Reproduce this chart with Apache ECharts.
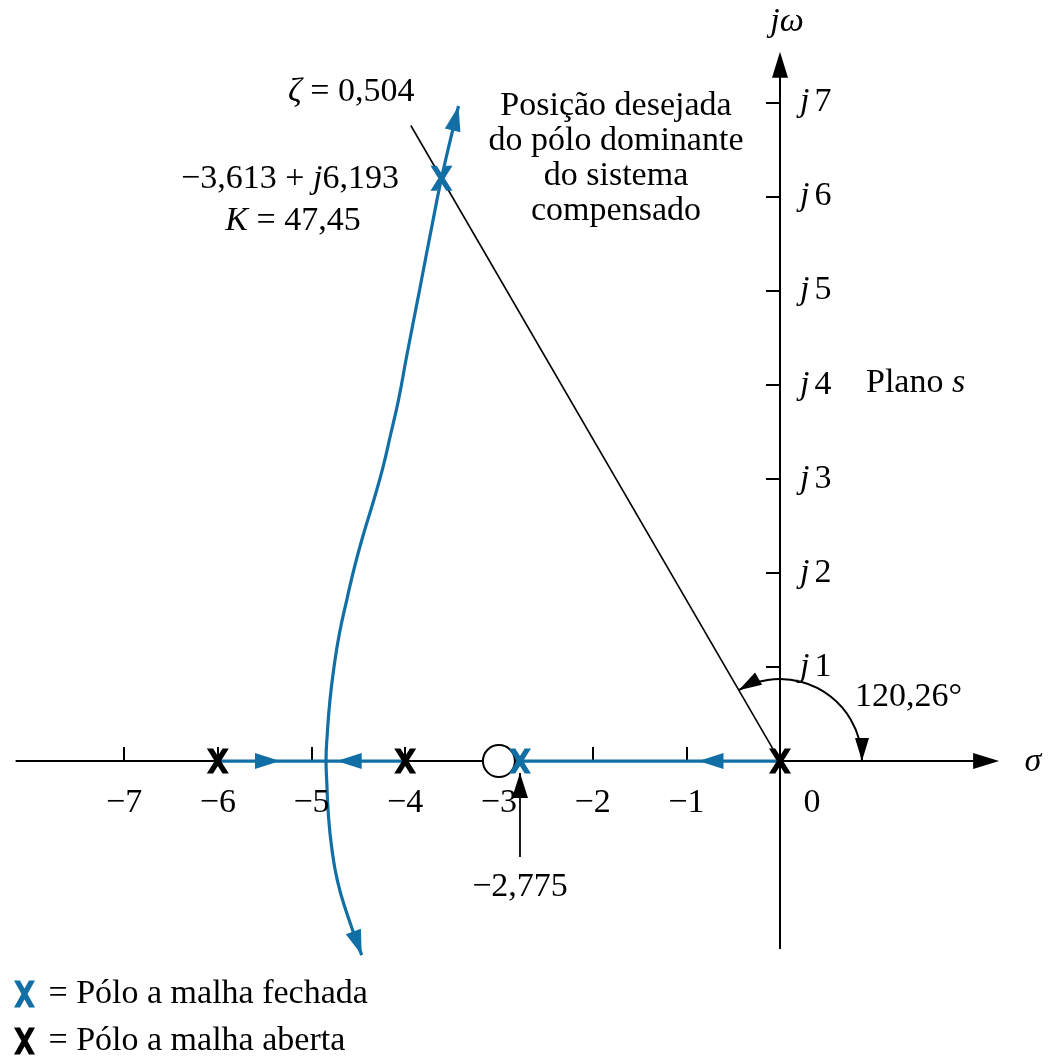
<!DOCTYPE html>
<html>
<head>
<meta charset="utf-8">
<script src="https://cdn.jsdelivr.net/npm/echarts@6/dist/echarts.min.js"></script>
<style>
  html, body { margin: 0; padding: 0; background: #fff; }
  #chart { width: 1057px; height: 1056px; }
</style>
</head>
<body>
<div id="chart"></div>
<script>
// ---- s-plane tick values ----
const sigmaTicks = [-7, -6, -5, -4, -3, -2, -1];
const omegaTicks = [1, 2, 3, 4, 5, 6, 7];

// ---- poles and zero ----
const openLoopPoles = [[-6, 0], [-4, 0], [0, 0]];
const openLoopZeros = [[-3, 0]];
const closedLoopPoles = [[-3.613, 6.193], [-2.775, 0]];

// ---- root-locus branches ----
const realBranchLeft = [[-6, 0], [-4, 0]];
const realBranchRight = [[0, 0], [-3, 0]];
const complexBranch = [
  [-3.431, 6.961], [-3.501, 6.674], [-3.613, 6.193], [-3.709, 5.717],
  [-3.847, 5.005], [-3.986, 4.293], [-4.072, 3.836], [-4.152, 3.486],
  [-4.237, 3.124], [-4.335, 2.774], [-4.442, 2.423], [-4.541, 2.062],
  [-4.624, 1.711], [-4.701, 1.360], [-4.760, 0.999], [-4.803, 0.648],
  [-4.831, 0.298], [-4.845, 0], [-4.838, -0.202], [-4.821, -0.553],
  [-4.785, -0.914], [-4.725, -1.265], [-4.624, -1.615], [-4.464, -2.062]
];

// direction arrows on the locus: [tip σ, tip ω, from σ, from ω]
const locusArrows = [
  [-3.431, 6.961, -3.501, 6.674],
  [-4.464, -2.062, -4.624, -1.615],
  [-5.336, 0, -6, 0],
  [-4.731, 0, -4, 0],
  [-0.87, 0, 0, 0]
];

// ---- constant damping line, ζ = 0.504 ----
const zetaLine = [[0, 0], [-3.94, 6.754]];
const zetaAngleDeg = 120.26;
const angleArc = [[0, 0, 0.875]];   // centre σ, centre ω, radius

// pointer to the real closed-loop pole
const pointerLine = [[-2.775, -1.02], [-2.775, -0.128]];
const pointerArrow = [[-2.775, -0.128, -2.775, -1.02]];

const BLUE = '#116fa5';
const SERIF = '"Liberation Serif", "DejaVu Serif", serif';
const FS = 34;
const X_ICON = 'path://M0,0 L6,0 L21,27 L15,27 Z M15,0 L21,0 L6,27 L0,27 Z';

function tok(italic, padLeft) {
  return { fontFamily: SERIF, fontSize: FS, fontStyle: italic ? 'italic' : 'normal', fill: '#000',
           padding: [0, 0, 0, padLeft || 0] };
}
const RICH = { i: tok(true), n: tok(false), g: tok(false, 5) };

function label(x, y, text, align) {
  return {
    type: 'text', x: x, y: y, silent: true,
    style: { text: text, rich: RICH, font: FS + 'px ' + SERIF, fill: '#000',
             align: align || 'center', verticalAlign: 'middle' }
  };
}

function arrowHead(tip, dir, color, len, hw) {
  const L = Math.hypot(dir[0], dir[1]);
  const dx = dir[0] / L, dy = dir[1] / L;
  const bx = tip[0] - dx * len, by = tip[1] - dy * len;
  return {
    type: 'polygon',
    shape: { points: [tip, [bx - dy * hw, by + dx * hw], [bx + dy * hw, by - dx * hw]] },
    style: { fill: color }
  };
}

function arrowSeries(data, color) {
  return {
    type: 'custom', coordinateSystem: 'cartesian2d', data: data, clip: false,
    encode: { x: 0, y: 1 }, silent: true,
    renderItem: function (params, api) {
      const tip = api.coord([api.value(0), api.value(1)]);
      const from = api.coord([api.value(2), api.value(3)]);
      return arrowHead(tip, [tip[0] - from[0], tip[1] - from[1]], color, 25, 8);
    }
  };
}

// tick labels placed next to the axis lines that cross at the origin
function tickLabelSeries(data, dx, dy, align, fmt) {
  return {
    type: 'custom', coordinateSystem: 'cartesian2d', data: data, clip: false,
    encode: { x: 0, y: 1 }, silent: true, z: 5,
    renderItem: function (params, api) {
      const p = api.coord([api.value(0), api.value(1)]);
      return {
        type: 'text', x: p[0] + dx, y: p[1] + dy,
        style: { text: fmt(api.value(0), api.value(1)), rich: RICH, font: FS + 'px ' + SERIF,
                 fill: '#000', align: align, verticalAlign: 'middle' }
      };
    }
  };
}

const chart = echarts.init(document.getElementById('chart'), null, { renderer: 'canvas' });

chart.setOption({
  animation: false,
  backgroundColor: '#fff',
  grid: { left: 16.35, right: 70.85, top: 64.7, bottom: 107.7, containLabel: false, outerBoundsMode: 'none' },
  xAxis: {
    type: 'value', min: -8.15, max: 2.2,
    axisLine: { onZero: true, lineStyle: { color: '#000', width: 2 },
                symbol: ['none', 'triangle'], symbolSize: [16, 26] },
    axisTick: { show: true, inside: true, length: 14, customValues: sigmaTicks,
                lineStyle: { color: '#000', width: 2 } },
    axisLabel: { show: false },
    splitLine: { show: false }
  },
  yAxis: {
    type: 'value', min: -1.99, max: 7.4,
    axisLine: { onZero: true, lineStyle: { color: '#000', width: 2 },
                symbol: ['none', 'triangle'], symbolSize: [16, 26] },
    axisTick: { show: true, inside: false, length: 14, customValues: omegaTicks,
                lineStyle: { color: '#000', width: 2 } },
    axisLabel: { show: false },
    splitLine: { show: false }
  },
  legend: {
    orient: 'vertical', left: 14, top: 977, width: 500, height: 150, padding: 0,
    itemWidth: 21, itemHeight: 27, itemGap: 13,
    selectedMode: false,
    data: [
      { name: 'Pólo a malha fechada', icon: X_ICON },
      { name: 'Pólo a malha aberta', icon: X_ICON }
    ],
    formatter: function (name) { return ' = ' + name; },
    textStyle: { fontFamily: SERIF, fontSize: FS, color: '#000', lineHeight: 32 }
  },
  tooltip: { show: false },
  series: [
    tickLabelSeries(sigmaTicks.map(function (v) { return [v, 0]; }), 0, 42, 'center',
      function (v) { return '{n|\u2212' + Math.abs(v) + '}'; }),
    tickLabelSeries(omegaTicks.map(function (v) { return [0, v]; }), 20, 0, 'left',
      function (s, w) { return '{i|j}{g|' + w + '}'; }),
    { type: 'line', name: 'zeta', data: zetaLine, showSymbol: false, silent: true, clip: false,
      lineStyle: { color: '#000', width: 1.6 } },
    { type: 'line', name: 'locus-real-1', data: realBranchLeft, showSymbol: false, silent: true,
      lineStyle: { color: BLUE, width: 3.2 } },
    { type: 'line', name: 'locus-real-2', data: realBranchRight, showSymbol: false, silent: true,
      lineStyle: { color: BLUE, width: 3.2 } },
    { type: 'line', name: 'locus-complex', data: complexBranch, showSymbol: false, silent: true,
      smooth: 0.5, clip: false, lineStyle: { color: BLUE, width: 3.2 } },
    arrowSeries(locusArrows, BLUE),
    { type: 'line', name: 'pointer', data: pointerLine, showSymbol: false, silent: true, clip: false,
      lineStyle: { color: '#000', width: 1.8 } },
    arrowSeries(pointerArrow, '#000'),
    {
      type: 'custom', name: 'angle', coordinateSystem: 'cartesian2d', data: angleArc, clip: false,
      encode: { x: 0, y: 1 }, silent: true,
      renderItem: function (params, api) {
        const c = api.coord([api.value(0), api.value(1)]);
        const r = api.size([api.value(2), 0])[0];
        const a0 = -zetaAngleDeg * Math.PI / 180;
        return {
          type: 'group',
          children: [
            { type: 'arc', shape: { cx: c[0], cy: c[1], r: r, startAngle: a0, endAngle: 0, clockwise: true },
              style: { stroke: '#000', lineWidth: 2, fill: 'none' } },
            arrowHead([c[0] + r, c[1]], [0, 1], '#000', 23, 7),
            arrowHead([c[0] + r * Math.cos(a0), c[1] + r * Math.sin(a0)], [Math.sin(a0), -Math.cos(a0)], '#000', 23, 7)
          ]
        };
      }
    },
    { type: 'scatter', name: 'zero', data: openLoopZeros, symbol: 'circle', symbolSize: 32, silent: true, z: 4,
      itemStyle: { color: '#fff', borderColor: '#000', borderWidth: 2, opacity: 1 } },
    { type: 'scatter', name: 'Pólo a malha aberta', data: openLoopPoles, symbol: X_ICON, symbolSize: [22, 25],
      silent: true, z: 4, itemStyle: { color: '#000', opacity: 1 } },
    { type: 'scatter', name: 'Pólo a malha fechada', data: closedLoopPoles, symbol: X_ICON, symbolSize: [22, 25],
      silent: true, z: 4, itemStyle: { color: BLUE, opacity: 1 } }
  ],
  graphic: [
    label(787, 22, '{i|jω}'),
    label(1033, 762, '{i|σ}'),
    label(812, 803, '{n|0}'),
    label(288, 92, '{i|ζ}{n| = 0,504}', 'left'),
    label(290, 179, '{n|\u22123,613 + }{i|j}{n|6,193}'),
    label(293, 221, '{i|K}{n| = 47,45}'),
    {
      type: 'text', x: 616, y: 158.5, silent: true,
      style: { text: 'Posição desejada\ndo pólo dominante\ndo sistema\ncompensado',
               font: FS + 'px ' + SERIF, fill: '#000', lineHeight: 35,
               align: 'center', verticalAlign: 'middle' }
    },
    label(866, 383, '{n|Plano }{i|s}', 'left'),
    label(855, 697, '{n|120,26°}', 'left'),
    label(520, 887, '{n|\u22122,775}')
  ]
});
</script>
</body>
</html>
